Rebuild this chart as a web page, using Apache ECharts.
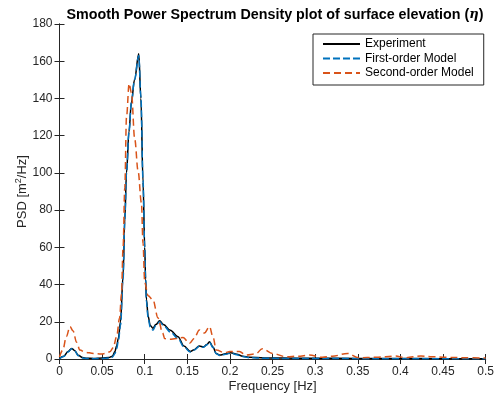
<!DOCTYPE html>
<html>
<head>
<meta charset="utf-8">
<script src="https://cdn.jsdelivr.net/npm/echarts@6/dist/echarts.min.js"></script>
<style>html,body{margin:0;padding:0;background:#fff}#c{width:497px;height:405px}</style>
</head>
<body>
<div id="c"></div>
<script>
// Frequency [Hz] and PSD [m^2/Hz]
var expFreq = [0,0.005,0.01,0.0143,0.018,0.022,0.027,0.032,0.04,0.05,0.058,0.062,0.065,0.067,0.069,0.0716,0.0746,0.0766,0.0786,0.0815,0.0844,0.088,0.093,0.0955,0.098,0.1,0.101,0.102,0.104,0.1065,0.1097,0.113,0.1175,0.122,0.13,0.139,0.146,0.1534,0.158,0.164,0.169,0.173,0.176,0.18,0.184,0.188,0.195,0.201,0.208,0.215,0.223,0.24,0.26,0.3,0.35,0.4,0.45,0.5];
var expPsd  = [0.3,1.5,4,5.7,4.5,2,0.8,0.4,0.3,0.5,0.8,1.5,4,7,11,20,45,75,100,122,138,150,164,140,95,60,43,32,23,18,16.5,18.5,20.5,18.5,15.5,12,7,4,5,7,6.5,7.8,9.3,6.5,3,2.1,2.8,3.4,2.5,1.5,0.9,0.6,0.5,0.4,0.3,0.3,0.2,0.2];

var firstFreq = [0,0.005,0.01,0.0143,0.018,0.022,0.027,0.032,0.04,0.05,0.058,0.062,0.065,0.067,0.069,0.0716,0.0746,0.0766,0.0786,0.0815,0.0844,0.088,0.093,0.0955,0.098,0.1,0.101,0.102,0.104,0.1065,0.1097,0.113,0.1175,0.122,0.13,0.139,0.146,0.1534,0.158,0.164,0.169,0.173,0.176,0.18,0.184,0.188,0.195,0.201,0.208,0.215,0.223,0.24,0.26,0.3,0.35,0.4,0.45,0.5];
var firstPsd  = [0.2,1.3,3.8,5.5,4.3,1.8,0.6,0.3,0.2,0.3,0.5,1,2.8,5.5,9.5,18,43,74,100,122,138,150,163,141,96,60,43,31,22,17,15.5,18,20,18,14.5,11,6.5,3.8,4.8,6.8,6.3,7.6,9,6.2,2.8,1.9,2.6,3.2,2.3,1.3,0.7,0.4,0.3,0.3,0.2,0.2,0.2,0.2];

var secondFreq = [0,0.004,0.008,0.0123,0.016,0.02,0.024,0.03,0.04,0.049,0.055,0.059,0.063,0.067,0.0705,0.0727,0.0746,0.0766,0.0786,0.0817,0.0844,0.0883,0.0922,0.0961,0.098,0.1,0.104,0.1097,0.1156,0.121,0.1234,0.129,0.137,0.145,0.1526,0.158,0.164,0.17,0.176,0.18,0.184,0.1936,0.2,0.211,0.219,0.23,0.238,0.25,0.266,0.28,0.293,0.3085,0.32,0.338,0.351,0.371,0.394,0.406,0.424,0.437,0.453,0.476,0.5];
var secondPsd  = [1,5,12,17.4,15,9,4.8,3.6,3,2.7,3,3.9,6,12,22,35,60,92,130,148,143,118,101,84,62,41,34,31.7,22,14,11,10.6,11,11.5,8.4,11,15.6,14,17.4,12,4.8,3.4,4,4,2.1,2.7,5.5,3,1.2,1.5,2.1,0.9,1.5,3,0.7,0.9,1.6,0.7,1.6,1.2,0.9,0.7,0.5];

var xTicks = [0,0.05,0.1,0.15,0.2,0.25,0.3,0.35,0.4,0.45,0.5];
var yTicks = [0,20,40,60,80,100,120,140,160,180];

function pairs(xs, ys){ return xs.map(function(x,i){ return [x, ys[i]]; }); }

var axisCol = '#262626';
var font = 'Liberation Sans, Arial, Helvetica, sans-serif';
var chart = echarts.init(document.getElementById('c'), null, {renderer:'canvas'});

var frameAxis = {
  axisLine:{show:true, lineStyle:{color:axisCol, width:1}},
  axisTick:{show:true, inside:true, length:5, lineStyle:{color:axisCol, width:1}},
  splitLine:{show:false}
};

chart.setOption({
  animation:false,
  backgroundColor:'#fff',
  title:{
    text:'{t|Smooth Power Spectrum Density plot of surface elevation (}{e|η}{t|)}',
    left:270, top:3, textAlign:'center',
    textStyle:{
      rich:{
        t:{fontFamily:font, fontSize:14.3, fontWeight:'bold', color:'#000'},
        e:{fontFamily:'DejaVu Serif, serif', fontSize:13, fontWeight:'bold', fontStyle:'italic', color:'#000'}
      }
    }
  },
  legend:{
    orient:'vertical', left:313, top:34,
    itemWidth:37, itemHeight:14, itemGap:2.5,
    padding:[4,10,6,9],
    borderColor:axisCol, borderWidth:1, backgroundColor:'#fff',
    itemStyle:{opacity:0},
    textStyle:{fontFamily:font, fontSize:12, color:'#000'},
    data:['Experiment','First-order Model','Second-order Model']
  },
  grid:{left:59.5, right:10, top:24, bottom:46, containLabel:false},
  xAxis:[
    Object.assign({
      type:'value', min:0, max:0.5, interval:0.05, position:'bottom',
      name:'Frequency [Hz]', nameLocation:'middle', nameGap:21, nameMoveOverlap:false,
      nameTextStyle:{fontFamily:font, fontSize:13, color:axisCol, verticalAlign:'top'},
      axisLabel:{fontFamily:font, fontSize:12, color:axisCol, margin:7,
        formatter:function(v){ var t = xTicks.filter(function(k){return Math.abs(k-v)<1e-9;}); return t.length? String(t[0]) : ''; }}
    }, frameAxis),
    Object.assign({
      type:'value', min:0, max:0.5, interval:0.05, position:'top',
      axisLabel:{show:false}
    }, frameAxis)
  ],
  yAxis:[
    Object.assign({
      type:'value', min:0, max:180, interval:20, position:'left',
      name:'{a|PSD [m}{s|2}{a|/Hz]}', nameLocation:'middle', nameGap:30, nameMoveOverlap:false,
      nameTextStyle:{rich:{
        a:{fontFamily:font, fontSize:13, color:axisCol},
        s:{fontFamily:font, fontSize:9, color:axisCol, verticalAlign:'top', padding:[0,0,6,0]}
      }},
      axisLabel:{fontFamily:font, fontSize:12, color:axisCol, margin:7,
        formatter:function(v){ return yTicks.indexOf(v) >= 0 ? String(v) : ''; }}
    }, frameAxis),
    Object.assign({
      type:'value', min:0, max:180, interval:20, position:'right',
      axisLabel:{show:false}
    }, frameAxis)
  ],
  series:[
    {name:'Experiment', type:'line', data:pairs(expFreq, expPsd), symbol:'none', smooth:0.35, smoothMonotone:'x',
      lineStyle:{color:'#000000', width:1.5, type:'solid'}, itemStyle:{color:'#000000'}, z:2},
    {name:'First-order Model', type:'line', data:pairs(firstFreq, firstPsd), symbol:'none', smooth:0.35, smoothMonotone:'x',
      lineStyle:{color:'#0072BD', width:1.5, type:[7,3]}, itemStyle:{color:'#0072BD'}, z:3},
    {name:'Second-order Model', type:'line', data:pairs(secondFreq, secondPsd), symbol:'none', smooth:0.35, smoothMonotone:'x',
      lineStyle:{color:'#D95319', width:1.5, type:[7,4]}, itemStyle:{color:'#D95319'}, z:4}
  ]
});
</script>
</body>
</html>
